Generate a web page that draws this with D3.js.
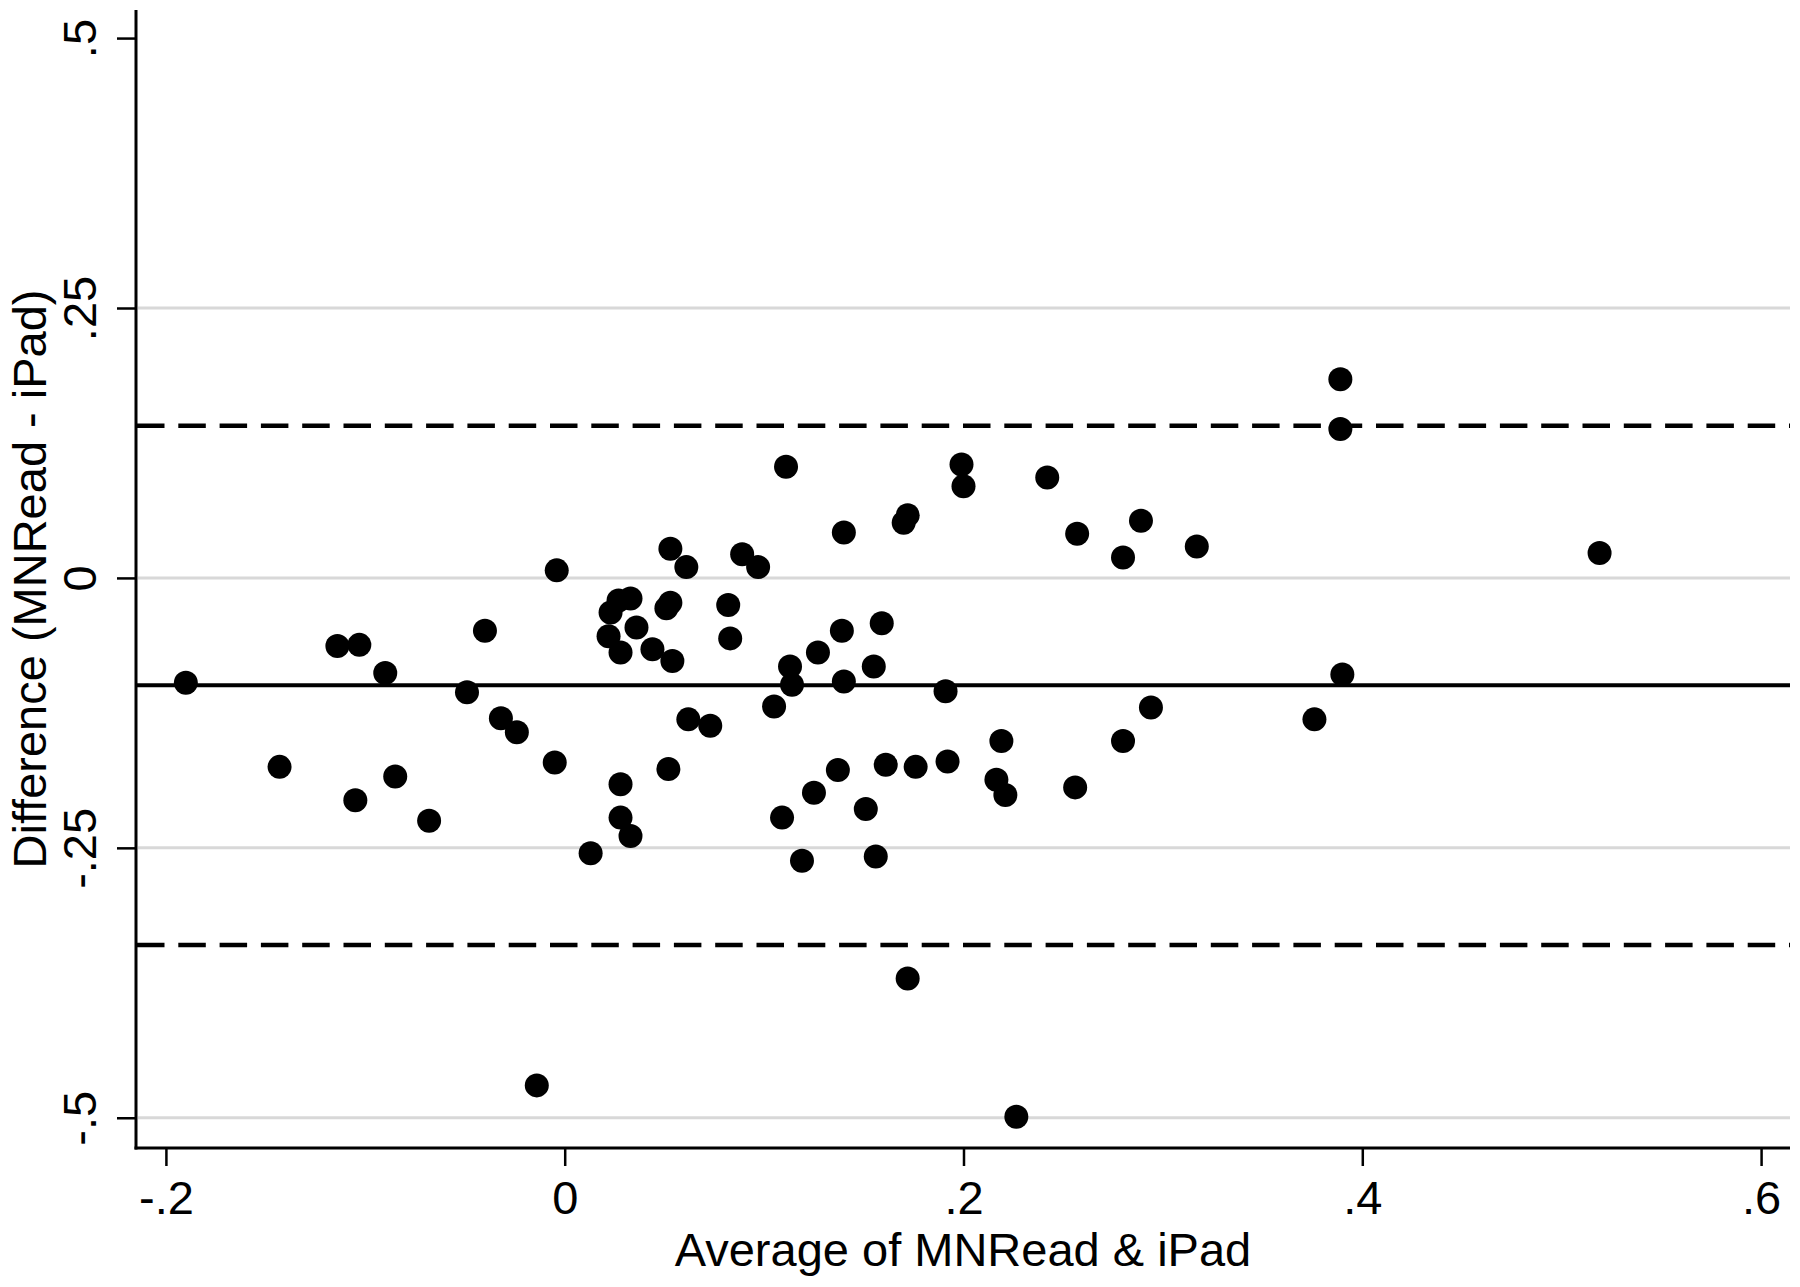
<!DOCTYPE html>
<html>
<head>
<meta charset="utf-8">
<script src="https://cdn.jsdelivr.net/npm/d3@7"></script>
<style>
  html, body { margin: 0; padding: 0; background: #fff; }
  svg { display: block; }
  text { font-family: "Liberation Sans", Arial, Helvetica, sans-serif; fill: #000; }
</style>
</head>
<body>
<svg id="chart" width="1800" height="1287"></svg>
<script>
// Bland-Altman plot: MNRead vs iPad reading acuity.

// ── data ─────────────────────────────────────────────────────────────────

const avgVals = [
  -0.190, -0.143, -0.114, -0.103, -0.105, -0.090, -0.085, -0.068, -0.049, -0.040,
  -0.032, -0.024, -0.014, -0.004, -0.005, 0.013, 0.023, 0.022, 0.027, 0.033,
  0.028, 0.036, 0.028, 0.028, 0.033, 0.044, 0.051, 0.053, 0.053, 0.054,
  0.052, 0.061, 0.062, 0.073, 0.082, 0.083, 0.089, 0.097, 0.105, 0.111,
  0.109, 0.113, 0.114, 0.119, 0.127, 0.125, 0.140, 0.139, 0.140, 0.137,
  0.151, 0.155, 0.159, 0.156, 0.161, 0.170, 0.172, 0.172, 0.176, 0.191,
  0.192, 0.199, 0.200, 0.2165, 0.219, 0.221, 0.2265, 0.242, 0.256, 0.257,
  0.280, 0.280, 0.289, 0.294, 0.317, 0.376, 0.389, 0.389, 0.390, 0.519,
];

const diffVals = [
  -0.097, -0.175, -0.063, -0.062, -0.206, -0.088, -0.184, -0.225, -0.106, -0.049,
  -0.130, -0.143, -0.470, 0.007, -0.171, -0.255, -0.032, -0.054, -0.021, -0.019,
  -0.069, -0.046, -0.191, -0.222, -0.239, -0.066, -0.028, -0.023, 0.027, -0.077,
  -0.177, 0.010, -0.131, -0.137, -0.025, -0.056, 0.022, 0.010, -0.119, 0.103,
  -0.222, -0.082, -0.099, -0.262, -0.069, -0.199, 0.042, -0.049, -0.096, -0.178,
  -0.214, -0.082, -0.042, -0.258, -0.173, 0.051, 0.058, -0.371, -0.175, -0.105,
  -0.170, 0.105, 0.085, -0.187, -0.151, -0.201, -0.499, 0.093, -0.194, 0.041,
  0.019, -0.151, 0.053, -0.120, 0.029, -0.131, 0.184, 0.138, -0.0895, 0.023,
];

const meanDiff = -0.0995;
const limitsOfAgreement = [0.141, -0.340];

const xTicks = [-0.2, 0, 0.2, 0.4, 0.6];
const xTickLabels = ["-.2", "0", ".2", ".4", ".6"];
const yTicks = [-0.5, -0.25, 0, 0.25, 0.5];
const yTickLabels = ["-.5", "-.25", "0", ".25", ".5"];
const yGridValues = [-0.5, -0.25, 0, 0.25];

const xTitle = "Average of MNRead & iPad";
const yTitle = "Difference (MNRead - iPad)";

// ── layout ───────────────────────────────────────────────────────────────

const plot = { left: 136, right: 1790, top: 10, bottom: 1148 };
const FONT_SIZE = 47;

const svg = d3.select("#chart");

const x = d3.scaleLinear().domain([-0.215, 0.6145]).range([plot.left, plot.right]);
const y = d3.scaleLinear().domain([-0.528, 0.526]).range([plot.bottom, plot.top]);

// ── grid + reference lines ───────────────────────────────────────────────

svg.append("g").selectAll("line")
  .data(yGridValues)
  .join("line")
  .attr("x1", plot.left + 2).attr("x2", plot.right)
  .attr("y1", d => y(d)).attr("y2", d => y(d))
  .attr("stroke", "#d8d8d8")
  .attr("stroke-width", 3);

svg.append("line")
  .attr("x1", plot.left).attr("x2", plot.right)
  .attr("y1", y(meanDiff)).attr("y2", y(meanDiff))
  .attr("stroke", "#000")
  .attr("stroke-width", 4);

svg.append("g").selectAll("line")
  .data(limitsOfAgreement)
  .join("line")
  .attr("x1", plot.left + 1).attr("x2", plot.right)
  .attr("y1", d => y(d)).attr("y2", d => y(d))
  .attr("stroke", "#000")
  .attr("stroke-width", 4.5)
  .attr("stroke-dasharray", "27.5,13.8");

// ── points ───────────────────────────────────────────────────────────────

svg.append("g").selectAll("circle")
  .data(d3.zip(avgVals, diffVals))
  .join("circle")
  .attr("cx", d => x(d[0]))
  .attr("cy", d => y(d[1]))
  .attr("r", 12)
  .attr("fill", "#000");

// ── axes ─────────────────────────────────────────────────────────────────

const xAxis = svg.append("g")
  .attr("transform", `translate(0,${plot.bottom})`)
  .call(d3.axisBottom(x)
    .tickValues(xTicks)
    .tickFormat((d, i) => xTickLabels[i])
    .tickSize(18)
    .tickSizeOuter(0));

const yAxis = svg.append("g")
  .attr("transform", `translate(${plot.left},0)`)
  .call(d3.axisLeft(y)
    .tickValues(yTicks)
    .tickFormat((d, i) => yTickLabels[i])
    .tickSize(19)
    .tickSizeOuter(0));

for (const ax of [xAxis, yAxis]) {
  ax.select(".domain").attr("stroke", "#000").attr("stroke-width", 3);
  ax.selectAll(".tick line").attr("stroke", "#000").attr("stroke-width", 2.5);
  ax.selectAll(".tick text")
    .attr("font-family", null)
    .style("font-size", FONT_SIZE + "px");
}

// stretch the domain lines to the full plot box
xAxis.select(".domain").attr("d", `M${plot.left - 1.5},0H${plot.right}`);
yAxis.select(".domain").attr("d", `M0,${plot.top}V${plot.bottom + 1.5}`);

xAxis.selectAll(".tick text")
  .attr("y", 66)
  .attr("dy", null);

// Stata-style vertical tick labels on the y axis
yAxis.selectAll(".tick text")
  .attr("x", null)
  .attr("dy", null)
  .attr("text-anchor", "middle")
  .attr("transform", "translate(-40,0) rotate(-90)");

// ── titles ───────────────────────────────────────────────────────────────

svg.append("text")
  .attr("x", (plot.left + plot.right) / 2)
  .attr("y", 1266)
  .attr("text-anchor", "middle")
  .style("font-size", FONT_SIZE + "px")
  .text(xTitle);

svg.append("text")
  .attr("transform", `translate(46,${(plot.top + plot.bottom) / 2}) rotate(-90)`)
  .attr("text-anchor", "middle")
  .style("font-size", FONT_SIZE + "px")
  .text(yTitle);
</script>
</body>
</html>
